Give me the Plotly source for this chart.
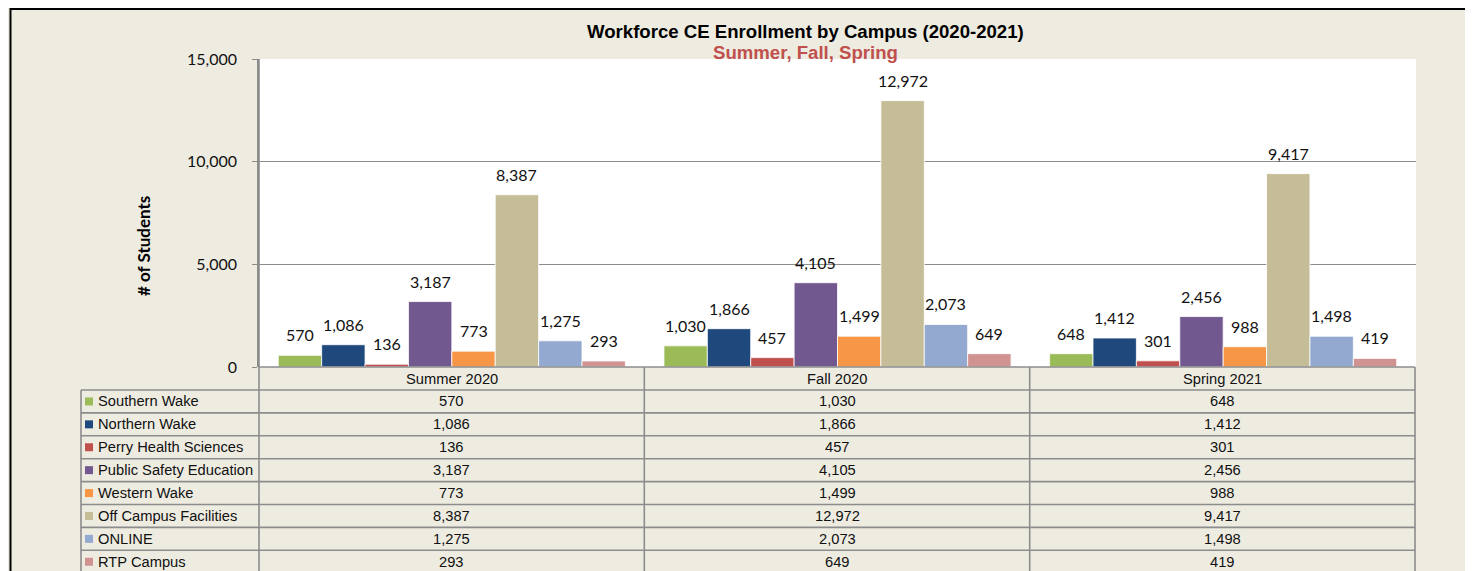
import plotly.graph_objects as go

# ---------------- data ----------------
terms = ["Summer 2020", "Fall 2020", "Spring 2021"]
campuses = ["Southern Wake", "Northern Wake", "Perry Health Sciences",
            "Public Safety Education", "Western Wake", "Off Campus Facilities",
            "ONLINE", "RTP Campus"]
southern_wake = [570, 1030, 648]
northern_wake = [1086, 1866, 1412]
perry_health = [136, 457, 301]
public_safety = [3187, 4105, 2456]
western_wake = [773, 1499, 988]
off_campus = [8387, 12972, 9417]
online = [1275, 2073, 1498]
rtp_campus = [293, 649, 419]
series_values = [southern_wake, northern_wake, perry_health, public_safety,
                 western_wake, off_campus, online, rtp_campus]
colors = ["#9BBB59", "#1F497D", "#C0504D", "#71588F",
          "#F79646", "#C4BD97", "#93A9CF", "#D19392"]
y_ticks = [0, 5000, 10000, 15000]

# ---------------- geometry (page pixels; page has an 8px body margin) ----------------
OFF = 8
W, H = 1473 - OFF, 571 - OFF
L, R, T, B = 259, 1416, 59, 367       # plot area in page pixels
PW, PH = R - L, B - T


def px(x):
    return (x - L) / PW


def py(y):
    return (B - y) / PH


BG = "#EEECE1"
GRID = "#8C8C8C"
TXT = "#111111"
fig = go.Figure()

n = len(campuses)
bargap = 0.1
for j, (name, vals, col) in enumerate(zip(campuses, series_values, colors)):
    fig.add_trace(go.Bar(
        x=terms, y=vals, name=name,
        marker=dict(color=col, line=dict(color="white", width=0.8)),
        showlegend=False, hoverinfo="x+y+name",
    ))

annotations = []
shapes = []
bw = (1 - bargap) / n
for j, vals in enumerate(series_values):
    for c, v in enumerate(vals):
        annotations.append(dict(
            x=c - (1 - bargap) / 2 + (j + 0.5) * bw, y=v, xref="x", yref="y",
            text=f"{v:,}", showarrow=False, xanchor="center", yanchor="bottom", yshift=9,
            font=dict(family="Lato", size=16, color=TXT)))


def label(x, y, text, size, color=TXT, family="Liberation Sans", xanchor="center", **kw):
    annotations.append(dict(x=px(x), y=py(y), xref="paper", yref="paper", text=text,
                            showarrow=False, xanchor=xanchor, yanchor="middle",
                            font=dict(family=family, size=size, color=color), **kw))


# titles
label(805, 31, "<b>Workforce CE Enrollment by Campus (2020-2021)</b>", 18.6, color="black")
label(805, 52, "<b>Summer, Fall, Spring</b>", 18.6, color="#C0504D")
label(143, 246, "<b># of Students</b>", 17, color="black", family="Lato", textangle=-90)

# ---------------- data table ----------------
col_edges = [259, 644.3, 1029.7, 1415]
row_top = 390
row_h = 22.9
bottom = 620
lc = dict(color=GRID, width=1.6)
TS = 14.7

for c, t in enumerate(terms):
    label((col_edges[c] + col_edges[c + 1]) / 2, 379, t, TS)

for i in range(n + 1):
    yy = row_top + i * row_h
    shapes.append(dict(type="line", xref="paper", yref="paper",
                       x0=px(81), x1=px(1415), y0=py(yy), y1=py(yy), line=lc))
shapes.append(dict(type="line", xref="paper", yref="paper",
                   x0=px(259), x1=px(1415), y0=py(367), y1=py(367), line=lc))
shapes.append(dict(type="line", xref="paper", yref="paper",
                   x0=px(81), x1=px(81), y0=py(row_top), y1=py(bottom), line=lc))
shapes.append(dict(type="line", xref="paper", yref="paper",
                   x0=px(259), x1=px(259), y0=py(59), y1=py(bottom), line=lc))
for xe in col_edges[1:]:
    shapes.append(dict(type="line", xref="paper", yref="paper",
                       x0=px(xe), x1=px(xe), y0=py(367), y1=py(bottom), line=lc))

for i, (name, vals, col) in enumerate(zip(campuses, series_values, colors)):
    yc = row_top + i * row_h + row_h / 2
    shapes.append(dict(type="rect", xref="paper", yref="paper",
                       x0=px(85), x1=px(93), y0=py(yc - 4), y1=py(yc + 4),
                       fillcolor=col, line=dict(width=0)))
    label(96, yc, name, TS, xanchor="left")
    for c, v in enumerate(vals):
        label((col_edges[c] + col_edges[c + 1]) / 2, yc, f"{v:,}", TS)

# outer border
shapes.append(dict(type="rect", xref="paper", yref="paper",
                   x0=px(10.5), x1=px(1500), y0=py(9), y1=py(650),
                   line=dict(color="black", width=2), fillcolor="rgba(0,0,0,0)"))

fig.update_layout(
    width=W, height=H,
    margin=dict(l=L - OFF, r=W - (R - OFF), t=T - OFF, b=H - (B - OFF), pad=0),
    paper_bgcolor=BG, plot_bgcolor="white",
    barmode="group", bargap=bargap, bargroupgap=0,
    annotations=annotations, shapes=shapes,
    xaxis=dict(showticklabels=False, showgrid=False, zeroline=False, showline=False,
               ticks="", fixedrange=True),
    yaxis=dict(range=[0, 15000], tickvals=y_ticks, tickformat=",",
               showgrid=True, gridcolor=GRID, gridwidth=1, zeroline=False,
               showline=True, linecolor=GRID, linewidth=1.5,
               ticks="outside", ticklen=5, tickcolor=GRID, ticklabelstandoff=12,
               tickfont=dict(family="Lato", size=16, color=TXT)),
)

fig.write_html("out.html")
